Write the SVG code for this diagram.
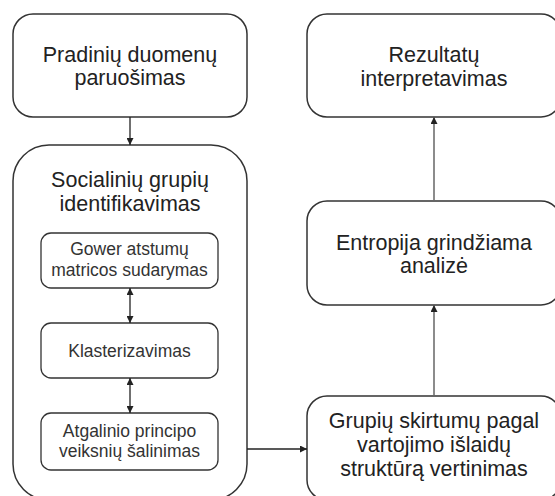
<svg xmlns="http://www.w3.org/2000/svg" width="555" height="496" viewBox="0 0 555 496">
<defs>
<marker id="ah" viewBox="0 0 10 10" refX="10" refY="5" markerWidth="7" markerHeight="7" markerUnits="userSpaceOnUse" orient="auto-start-reverse">
<path d="M0,0 L10,5 L0,10 z" fill="#222"/>
</marker>
<marker id="ahg" viewBox="0 0 10 10" refX="10" refY="5" markerWidth="7" markerHeight="7" markerUnits="userSpaceOnUse" orient="auto">
<path d="M0,0 L10,5 L0,10 z" fill="#222"/>
</marker>
<style>
.box{fill:#fff;stroke:#333;stroke-width:1.5}
.inner{fill:#fff;stroke:#333;stroke-width:1.3}
.t{font-family:"Liberation Sans",Arial,sans-serif;font-size:21.5px;fill:#222;text-anchor:middle}
.s{font-family:"Liberation Sans",Arial,sans-serif;font-size:17.5px;fill:#333;text-anchor:middle}
.c{fill:none;stroke:#222;stroke-width:1.3}
.cg{fill:none;stroke:#666;stroke-width:1.5}
</style>
</defs>
<rect width="555" height="496" fill="#fff"/>
<g id="n1">
<rect class="box" x="13" y="14" width="234" height="103" rx="20"/>
<text class="t" x="130" y="62">Pradinių duomenų</text>
<text class="t" x="130" y="85">paruošimas</text>
</g>
<g id="n2">
<rect class="box" x="13" y="145" width="234" height="355" rx="36"/>
<text class="t" x="130" y="187">Socialinių grupių</text>
<text class="t" x="130" y="211">identifikavimas</text>
</g>
<g id="n2a">
<rect class="inner" x="41" y="233" width="177" height="55" rx="10"/>
<text class="s" x="129.5" y="255">Gower atstumų</text>
<text class="s" x="129.5" y="276">matricos sudarymas</text>
</g>
<g id="n2b">
<rect class="inner" x="41" y="323" width="177" height="55" rx="10"/>
<text class="s" x="129.5" y="357">Klasterizavimas</text>
</g>
<g id="n2c">
<rect class="inner" x="41" y="413" width="177" height="57" rx="10"/>
<text class="s" x="129.5" y="437">Atgalinio principo</text>
<text class="s" x="129.5" y="457">veiksnių šalinimas</text>
</g>
<g id="n3">
<rect class="box" x="307" y="14" width="254" height="103" rx="20"/>
<text class="t" x="434" y="62">Rezultatų</text>
<text class="t" x="434" y="86">interpretavimas</text>
</g>
<g id="n4">
<rect class="box" x="307" y="201" width="254" height="104" rx="20"/>
<text class="t" x="434" y="250">Entropija grindžiama</text>
<text class="t" x="434" y="273">analizė</text>
</g>
<g id="n5">
<rect class="box" x="307" y="396" width="254" height="104" rx="20"/>
<text class="t" x="434" y="428">Grupių skirtumų pagal</text>
<text class="t" x="434" y="452">vartojimo išlaidų</text>
<text class="t" x="434" y="476">struktūrą vertinimas</text>
</g>
<g id="connectors">
<line class="c" x1="130" y1="117" x2="130" y2="145" marker-end="url(#ah)"/>
<line class="c" x1="130" y1="288" x2="130" y2="323" marker-start="url(#ah)" marker-end="url(#ah)"/>
<line class="c" x1="130" y1="378" x2="130" y2="413" marker-start="url(#ah)" marker-end="url(#ah)"/>
<line class="c" x1="247" y1="449" x2="307" y2="449" marker-end="url(#ah)"/>
<line class="cg" x1="434" y1="396" x2="434" y2="305" marker-end="url(#ahg)"/>
<line class="cg" x1="434" y1="201" x2="434" y2="117" marker-end="url(#ahg)"/>
</g>
</svg>
